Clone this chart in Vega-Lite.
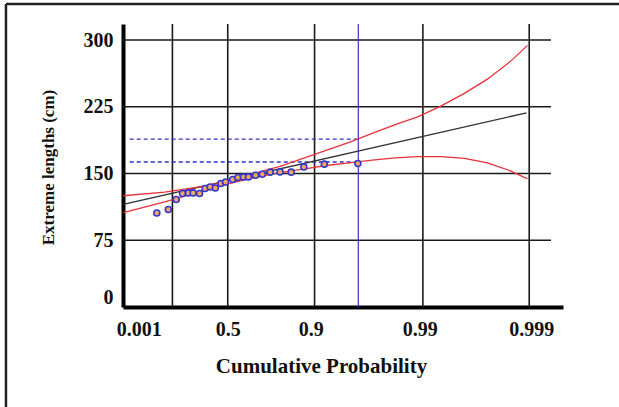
{
  "$schema": "https://vega.github.io/schema/vega-lite/v6.json",
  "autosize": {"type": "none"},
  "width": 440,
  "height": 283,
  "padding": {"left": 123, "top": 24, "right": 56, "bottom": 100},
  "background": "white",
  "config": {
    "view": {"stroke": null},
    "font": "Liberation Serif",
    "axis": {"labelFont": "Liberation Serif", "titleFont": "Liberation Serif", "labelColor": "#111", "titleColor": "#111"}
  },
  "datasets": {
    "hgrid": [{"v": 75}, {"v": 150}, {"v": 225}, {"v": 300}],
    "vgrid": [{"u": -0.834}, {"u": 0.3665}, {"u": 2.25}, {"u": 4.6}, {"u": 6.907}],
    "levels": [{"v": 188.6}, {"v": 163.0}],
    "curves": [
      {"s": "fit", "u": -1.9, "v": 115.3},
      {"s": "fit", "u": 6.85, "v": 218.2},
      {"s": "upper", "u": -1.9, "v": 125},
      {"s": "upper", "u": -1.0, "v": 129},
      {"s": "upper", "u": 0.0, "v": 137},
      {"s": "upper", "u": 0.5, "v": 144},
      {"s": "upper", "u": 1.0, "v": 151},
      {"s": "upper", "u": 1.5, "v": 158},
      {"s": "upper", "u": 2.0, "v": 167},
      {"s": "upper", "u": 2.5, "v": 176},
      {"s": "upper", "u": 3.0, "v": 185},
      {"s": "upper", "u": 3.5, "v": 195},
      {"s": "upper", "u": 4.0, "v": 205},
      {"s": "upper", "u": 4.5, "v": 214},
      {"s": "upper", "u": 5.0, "v": 226},
      {"s": "upper", "u": 5.5, "v": 240},
      {"s": "upper", "u": 6.0, "v": 256},
      {"s": "upper", "u": 6.5, "v": 276},
      {"s": "upper", "u": 6.87, "v": 294},
      {"s": "lower", "u": -1.9, "v": 106},
      {"s": "lower", "u": -1.0, "v": 118},
      {"s": "lower", "u": 0.0, "v": 133},
      {"s": "lower", "u": 0.5, "v": 140},
      {"s": "lower", "u": 1.0, "v": 146},
      {"s": "lower", "u": 1.5, "v": 151},
      {"s": "lower", "u": 2.0, "v": 155},
      {"s": "lower", "u": 2.5, "v": 159},
      {"s": "lower", "u": 3.0, "v": 162},
      {"s": "lower", "u": 3.5, "v": 165},
      {"s": "lower", "u": 4.0, "v": 167.5},
      {"s": "lower", "u": 4.5, "v": 169},
      {"s": "lower", "u": 5.0, "v": 169},
      {"s": "lower", "u": 5.5, "v": 167},
      {"s": "lower", "u": 6.0, "v": 162},
      {"s": "lower", "u": 6.5, "v": 153},
      {"s": "lower", "u": 6.87, "v": 144}
    ],
    "points": [
      {"u": -1.172, "v": 105.7},
      {"u": -0.923, "v": 109.5},
      {"u": -0.751, "v": 120.8},
      {"u": -0.614, "v": 127.5},
      {"u": -0.486, "v": 128.2},
      {"u": -0.384, "v": 128.2},
      {"u": -0.245, "v": 127.5},
      {"u": -0.126, "v": 133.1},
      {"u": -0.015, "v": 134.9},
      {"u": 0.098, "v": 133.8},
      {"u": 0.217, "v": 138.7},
      {"u": 0.319, "v": 140.5},
      {"u": 0.473, "v": 143.2},
      {"u": 0.586, "v": 145.5},
      {"u": 0.706, "v": 146.2},
      {"u": 0.816, "v": 146.2},
      {"u": 0.971, "v": 148.1},
      {"u": 1.117, "v": 149.2},
      {"u": 1.288, "v": 151.5},
      {"u": 1.502, "v": 151.8},
      {"u": 1.743, "v": 151.5},
      {"u": 2.017, "v": 157.4},
      {"u": 2.462, "v": 160.5},
      {"u": 3.19, "v": 161.2}
    ]
  },
  "layer": [
    {
      "data": {"name": "hgrid"},
      "mark": {"type": "rule", "color": "#1a1a1a", "strokeWidth": 1.6},
      "encoding": {
        "x": {"datum": -1.906, "type": "quantitative", "scale": {"domain": [-1.906, 7.64], "nice": false, "zero": false},
          "axis": {
            "values": [-1.565, 0.3665, 2.17, 4.53, 6.95],
            "labelExpr": "datum.value < -1 ? '0.001' : datum.value < 1 ? '0.5' : datum.value < 3 ? '0.9' : datum.value < 5 ? '0.99' : '0.999'",
            "grid": false, "ticks": false,
            "domainColor": "#000", "domainWidth": 4,
            "labelFontSize": 20, "labelFontWeight": "bold", "labelPadding": 12,
            "title": "Cumulative Probability",
            "titleFontSize": 21, "titleFontWeight": "bold",
            "titleX": 198, "titleY": 65, "titleAlign": "center", "titleBaseline": "alphabetic", "titleAnchor": null
          }},
        "x2": {"datum": 7.38},
        "y": {"field": "v", "type": "quantitative", "scale": {"domain": [0, 318], "nice": false, "zero": false},
          "axis": {
            "values": [0, 75, 150, 225, 300],
            "grid": false, "ticks": false,
            "domainColor": "#000", "domainWidth": 4,
            "labelFontSize": 20, "labelFontWeight": "bold", "labelPadding": 10, "labelFlush": true,
            "title": "Extreme lengths (cm)",
            "titleFontSize": 17, "titleFontWeight": "bold",
            "titleX": -75, "titleY": 143, "titleAngle": -90, "titleAlign": "center", "titleBaseline": "middle", "titleAnchor": null
          }}
      }
    },
    {
      "data": {"name": "vgrid"},
      "mark": {"type": "rule", "color": "#1a1a1a", "strokeWidth": 1.6},
      "encoding": {"x": {"field": "u", "type": "quantitative"}}
    },
    {
      "data": {"name": "levels"},
      "mark": {"type": "rule", "color": "#3030cc", "strokeWidth": 1.4, "strokeDash": [4, 3]},
      "encoding": {
        "x": {"datum": -1.76, "type": "quantitative"},
        "x2": {"datum": 3.199},
        "y": {"field": "v", "type": "quantitative"}
      }
    },
    {
      "data": {"values": [{"u": 3.199}]},
      "mark": {"type": "rule", "color": "#3535c8", "strokeWidth": 1.2},
      "encoding": {"x": {"field": "u", "type": "quantitative"}}
    },
    {
      "data": {"name": "curves"},
      "mark": {"type": "line", "strokeWidth": 1.3},
      "encoding": {
        "x": {"field": "u", "type": "quantitative"},
        "y": {"field": "v", "type": "quantitative"},
        "color": {"field": "s", "type": "nominal", "scale": {"domain": ["fit", "lower", "upper"], "range": ["#333333", "#e8323a", "#e8323a"]}, "legend": null}
      }
    },
    {
      "data": {"name": "points"},
      "mark": {"type": "point", "shape": "circle", "filled": false, "fill": "#f0a860", "fillOpacity": 1, "stroke": "#3535d0", "strokeWidth": 1.6, "size": 36, "opacity": 1},
      "encoding": {
        "x": {"field": "u", "type": "quantitative"},
        "y": {"field": "v", "type": "quantitative"}
      }
    },
    {
      "data": {"values": [{"v": 340.5}]},
      "mark": {"type": "rule", "color": "#222", "strokeWidth": 2.5},
      "encoding": {
        "x": {"datum": -4.445, "type": "quantitative"},
        "x2": {"datum": 8.9},
        "y": {"field": "v", "type": "quantitative"}
      }
    },
    {
      "data": {"values": [{"u": -4.445}]},
      "mark": {"type": "rule", "color": "#222", "strokeWidth": 2.5},
      "encoding": {
        "x": {"field": "u", "type": "quantitative"},
        "y": {"datum": 340.5, "type": "quantitative"},
        "y2": {"datum": -115}
      }
    }
  ]
}
